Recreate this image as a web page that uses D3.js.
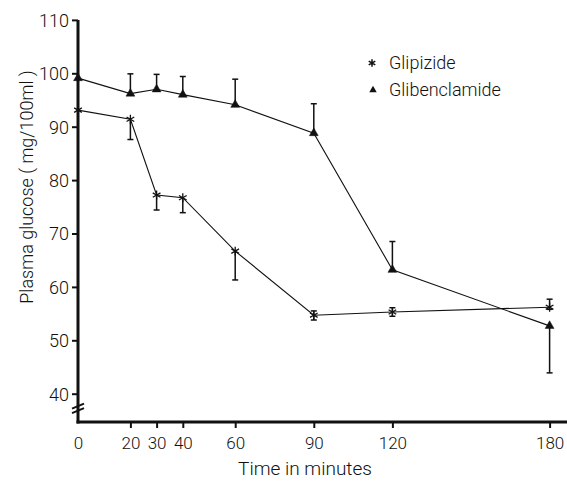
<!DOCTYPE html>
<html>
<head>
<meta charset="utf-8">
<script src="https://cdn.jsdelivr.net/npm/d3@7"></script>
<style>
  html, body { margin: 0; padding: 0; background: #fff; }
  svg { display: block; }
  text { font-family: Roboto, "DejaVu Sans", sans-serif; fill: #111; font-weight: 300; }
</style>
</head>
<body>
<svg id="chart" width="567" height="481"></svg>
<script>
// ---- data ----
const times = [0, 20, 30, 40, 60, 90, 120, 180];
const xTickValues = [0, 20, 30, 40, 60, 90, 120, 180];
const yTickValues = [40, 50, 60, 70, 80, 90, 100, 110];

const glipizide     = [93.1, 91.4, 77.2, 76.7, 66.7, 54.7, 55.3, 56.2];
const glipizideLow  = [93.1, 87.6, 74.4, 73.9, 61.3, 53.8, 54.5, 55.8];
const glipizideHigh = [93.1, 91.4, 77.2, 76.7, 66.7, 55.5, 56.1, 57.7];

const glibenclamide     = [99.1, 96.2, 97.0, 96.0, 94.1, 88.8, 63.2, 52.7];
const glibenclamideLow  = [99.1, 96.2, 97.0, 96.0, 94.1, 88.8, 63.2, 43.9];
const glibenclamideHigh = [99.1, 99.9, 99.8, 99.4, 98.9, 94.3, 68.5, 52.7];

const seriesNames = ["Glipizide", "Glibenclamide"];
const xTitle = "Time in minutes";
const yTitle = "Plasma glucose ( mg/100ml )";

// ---- layout ----
const svg = d3.select("#chart");
const x = d3.scaleLinear().domain([0, 180]).range([78, 549.6]);
const y = d3.scaleLinear().domain([40, 110]).range([393.7, 19.9]);
const axisBottomY = 422;

const g = svg.append("g");

// y axis
const yAxis = d3.axisLeft(y).tickValues(yTickValues).tickSize(6).tickPadding(3);
const gy = g.append("g").attr("transform", `translate(${x(0)},0)`).call(yAxis);
gy.select(".domain").remove();
gy.selectAll(".tick line").attr("stroke", "#111").attr("stroke-width", 2);
gy.selectAll(".tick text").style("font-size", "18px").attr("fill", "#111")
  .style("font-family", "Roboto, sans-serif").style("font-weight", 300).attr("dy", "0.35em");

// x axis
const xAxis = d3.axisBottom(x).tickValues(xTickValues).tickSize(6).tickPadding(9);
const gx = g.append("g").attr("transform", `translate(0,${axisBottomY})`).call(xAxis);
gx.select(".domain").remove();
gx.selectAll(".tick line").attr("stroke", "#111").attr("stroke-width", 2);
gx.selectAll(".tick text").style("font-size", "17px").attr("fill", "#111")
  .style("font-family", "Roboto, sans-serif").style("font-weight", 300);
gx.selectAll(".tick").filter(d => d === 0).select("line").remove();

// axis lines
g.append("line").attr("x1", x(0)).attr("x2", x(0))
  .attr("y1", y(110)).attr("y2", axisBottomY + 1.5)
  .attr("stroke", "#111").attr("stroke-width", 3);
g.append("line").attr("x1", x(0) - 1.5).attr("x2", 567)
  .attr("y1", axisBottomY).attr("y2", axisBottomY)
  .attr("stroke", "#111").attr("stroke-width", 3);

// axis break marks
[0, 4.5].forEach(off => {
  g.append("line")
    .attr("x1", x(0) - 6).attr("y1", y(40) + 15 + off)
    .attr("x2", x(0) + 6).attr("y2", y(40) + 10 + off)
    .attr("stroke", "#111").attr("stroke-width", 2);
});

// titles
g.append("text").attr("x", 305).attr("y", 475).attr("text-anchor", "middle")
  .style("font-size", "19px").text(xTitle);
g.append("text").attr("transform", "translate(33,187) rotate(-90)")
  .attr("text-anchor", "middle").style("font-size", "18px").text(yTitle);

// series
const line = d3.line().x(d => x(d[0])).y(d => y(d[1]));
function drawSeries(vals, lo, hi, symbol, filled) {
  const pts = times.map((t, i) => [t, vals[i]]);
  g.append("path").datum(pts).attr("d", line)
    .attr("fill", "none").attr("stroke", "#111").attr("stroke-width", 1.1);
  times.forEach((t, i) => {
    if (hi[i] - lo[i] > 0.01) {
      const cx = x(t);
      g.append("line").attr("x1", cx).attr("x2", cx)
        .attr("y1", y(lo[i])).attr("y2", y(hi[i]))
        .attr("stroke", "#111").attr("stroke-width", 1.5);
      [lo[i], hi[i]].forEach(v => {
        if (Math.abs(v - vals[i]) > 0.01) {
          g.append("line").attr("x1", cx - 3).attr("x2", cx + 3)
            .attr("y1", y(v)).attr("y2", y(v))
            .attr("stroke", "#111").attr("stroke-width", 1.5);
        }
      });
    }
  });
  g.append("g").selectAll("path").data(pts).join("path")
    .attr("transform", d => `translate(${x(d[0])},${y(d[1])})`)
    .attr("d", d3.symbol().type(symbol).size(filled ? 34 : 55))
    .attr("fill", filled ? "#111" : "none")
    .attr("stroke", "#111").attr("stroke-width", filled ? 0.5 : 1.3);
}
drawSeries(glipizide, glipizideLow, glipizideHigh, d3.symbolAsterisk, false);
drawSeries(glibenclamide, glibenclamideLow, glibenclamideHigh, d3.symbolTriangle, true);

// legend
const legend = g.append("g");
legend.append("path").attr("transform", "translate(372,63)")
  .attr("d", d3.symbol().type(d3.symbolAsterisk).size(40))
  .attr("fill", "none").attr("stroke", "#111").attr("stroke-width", 1.5);
legend.append("path").attr("transform", "translate(373,90)")
  .attr("d", d3.symbol().type(d3.symbolTriangle).size(24))
  .attr("fill", "#111");
legend.append("text").attr("x", 389).attr("y", 69).style("font-size", "18px").text(seriesNames[0]);
legend.append("text").attr("x", 389).attr("y", 96).style("font-size", "18px").text(seriesNames[1]);
</script>
</body>
</html>
